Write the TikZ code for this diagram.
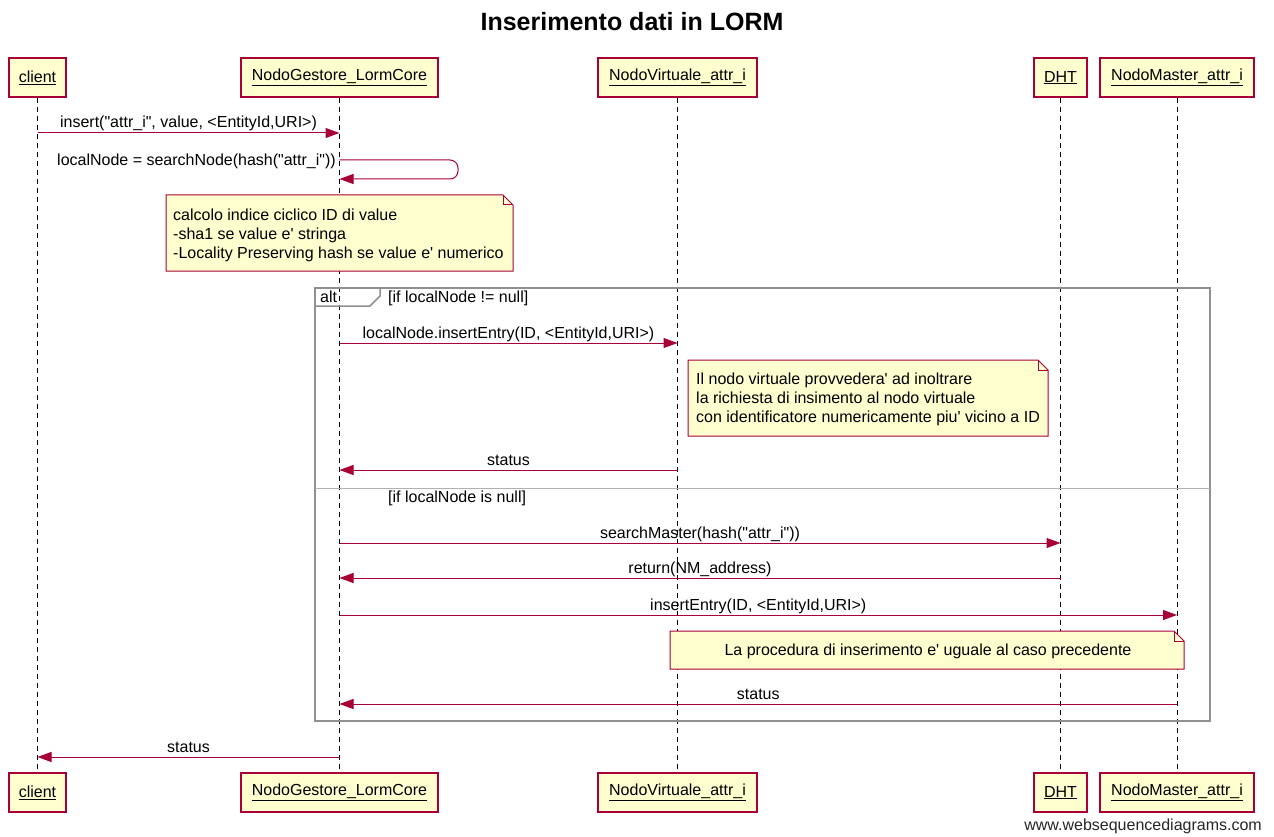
\documentclass[tikz,border=0pt]{standalone}
\usepackage{fontspec}
\newfontfamily\wsd{Liberation Sans}
\usetikzlibrary{arrows.meta}
\definecolor{wsdred}{HTML}{A80036}
\definecolor{wsdfill}{HTML}{FEFECE}
\definecolor{framegray}{HTML}{909090}
\pgfdeclarelayer{canvas}
\pgfdeclarelayer{lifelines}
\pgfdeclarelayer{notes}
\pgfsetlayers{canvas,lifelines,notes,main}
\begin{document}
\begin{tikzpicture}[x=1pt,y=-1pt,
  txt/.style={font=\wsd\fontsize{16}{19}\selectfont},
  participant/.style={txt, draw=wsdred, fill=wsdfill, line width=1.2pt,
    minimum height=39pt, inner sep=0pt},
  lifeline/.style={draw=black, line width=1pt, dash pattern=on 5pt off 4pt},
  msg/.style={draw=wsdred, line width=1pt, -{Triangle[length=14pt,width=10pt]}},
  lbl/.style={txt, anchor=base, yshift=5pt, inner sep=0pt},
  notetxt/.style={txt, inner sep=0pt, align=left},
  notebox/.style={draw=wsdred, fill=wsdfill, line width=1pt},
  framebox/.style={draw=framegray, line width=2pt},
]
\begin{pgfonlayer}{canvas}
  \fill[white] (0,0) rectangle (1274,837);
\end{pgfonlayer}
\useasboundingbox (0,0) rectangle (1274,837);

% title
\node[font=\wsd\fontsize{25}{30}\selectfont\bfseries, anchor=base, inner sep=0pt]
  (title) at (632,31) {Inserimento dati in LORM};

% participants, top and bottom
\foreach \yy/\sfx in {77.5/1, 792.5/2} {
  \node[participant, minimum width=57pt]  (c\sfx) at (37.5,\yy)  {\underline{client}};
  \node[participant, minimum width=197pt] (g\sfx) at (339.5,\yy) {\underline{NodoGestore\_LormCore}};
  \node[participant, minimum width=159pt] (v\sfx) at (677.5,\yy) {\underline{NodoVirtuale\_attr\_i}};
  \node[participant, minimum width=53pt]  (d\sfx) at (1060.5,\yy) {\underline{DHT}};
  \node[participant, minimum width=154pt] (m\sfx) at (1177,\yy)  {\underline{NodoMaster\_attr\_i}};
}

% lifelines
\begin{pgfonlayer}{lifelines}
  \draw[lifeline] (c1) -- (c2);
  \draw[lifeline] (g1) -- (g2);
  \draw[lifeline] (v1) -- (v2);
  \draw[lifeline] (d1) -- (d2);
  \draw[lifeline] (m1) -- (m2);
\end{pgfonlayer}

% note outlines with folded corner
\begin{pgfonlayer}{notes}
  \foreach \xa/\ya/\xb/\yb in {166/195/513/271, 688/360/1048/436, 670/631/1184/669} {
    \filldraw[notebox] (\xa,\yb) -- (\xa,\ya) -- (\xb-10,\ya) -- (\xb,\ya+10) -- (\xb,\yb) -- cycle;
    \draw[notebox, fill=none] (\xb-10,\ya) -- (\xb-10,\ya+10) -- (\xb,\ya+10);
  }
\end{pgfonlayer}

% message rows
\coordinate (r1) at (0,133);
\coordinate (r2) at (0,160);
\coordinate (r2b) at (0,179);
\coordinate (r3) at (0,343);
\coordinate (r4) at (0,470);
\coordinate (r5) at (0,543);
\coordinate (r6) at (0,578);
\coordinate (r7) at (0,615);
\coordinate (r8) at (0,704);
\coordinate (r9) at (0,757);
\coordinate (selfA) at (458,160);
\coordinate (selfB) at (458,179);

% messages
\draw[msg] (c1 |- r1) -- node[lbl] (l1) {insert("attr\_i", value, <EntityId,URI>)} (g1 |- r1);
\draw[msg, rounded corners=8pt] (g1 |- r2) -- (selfA) -- (selfB) -- (g1 |- r2b);
\node[txt, anchor=base east, inner sep=0pt] (l2) at (336,166) {localNode = searchNode(hash("attr\_i"))};

\node[notetxt, anchor=west] (n1) at (173,235)
  {calcolo indice ciclico ID di value\\-sha1 se value e' stringa\\-Locality Preserving hash se value e' numerico};

% alt frame
\draw[framebox] (315,288) rectangle (1210,721);
\draw[framebox, line width=1.5pt] (315,306) -- (370,306) -- (380,296) -- (380,288);
\node[txt, anchor=base west, inner sep=0pt] (alt) at (320,302) {alt};
\node[txt, anchor=base west, inner sep=0pt] (g1txt) at (388,302) {[if localNode != null]};
\draw[draw=framegray!70, line width=1pt] (315,488) -- (1210,488);
\node[txt, anchor=base west, inner sep=0pt] (g2txt) at (388,502) {[if localNode is null]};

\draw[msg] (g1 |- r3) -- node[lbl] (l3) {localNode.insertEntry(ID, <EntityId,URI>)} (v1 |- r3);

\node[notetxt, anchor=west] (n2) at (696,399)
  {Il nodo virtuale provvedera' ad inoltrare\\la richiesta di insimento al nodo virtuale\\con identificatore numericamente piu' vicino a ID};

\draw[msg] (v1 |- r4) -- node[lbl] (l4) {status} (g1 |- r4);
\draw[msg] (g1 |- r5) -- node[lbl] (l5) {searchMaster(hash("attr\_i"))} (d1 |- r5);
\draw[msg] (d1 |- r6) -- node[lbl] (l6) {return(NM\_address)} (g1 |- r6);
\draw[msg] (g1 |- r7) -- node[lbl] (l7) {insertEntry(ID, <EntityId,URI>)} (m1 |- r7);

\node[notetxt] (n3) at (928,651)
  {La procedura di inserimento e' uguale al caso precedente};

\draw[msg] (m1 |- r8) -- node[lbl] (l8) {status} (g1 |- r8);
\draw[msg] (g1 |- r9) -- node[lbl] (l9) {status} (c1 |- r9);

% footer
\node[txt, anchor=base east, inner sep=0pt, text=black!85] (wm) at (1262,830) {www.websequencediagrams.com};
\end{tikzpicture}
\end{document}
